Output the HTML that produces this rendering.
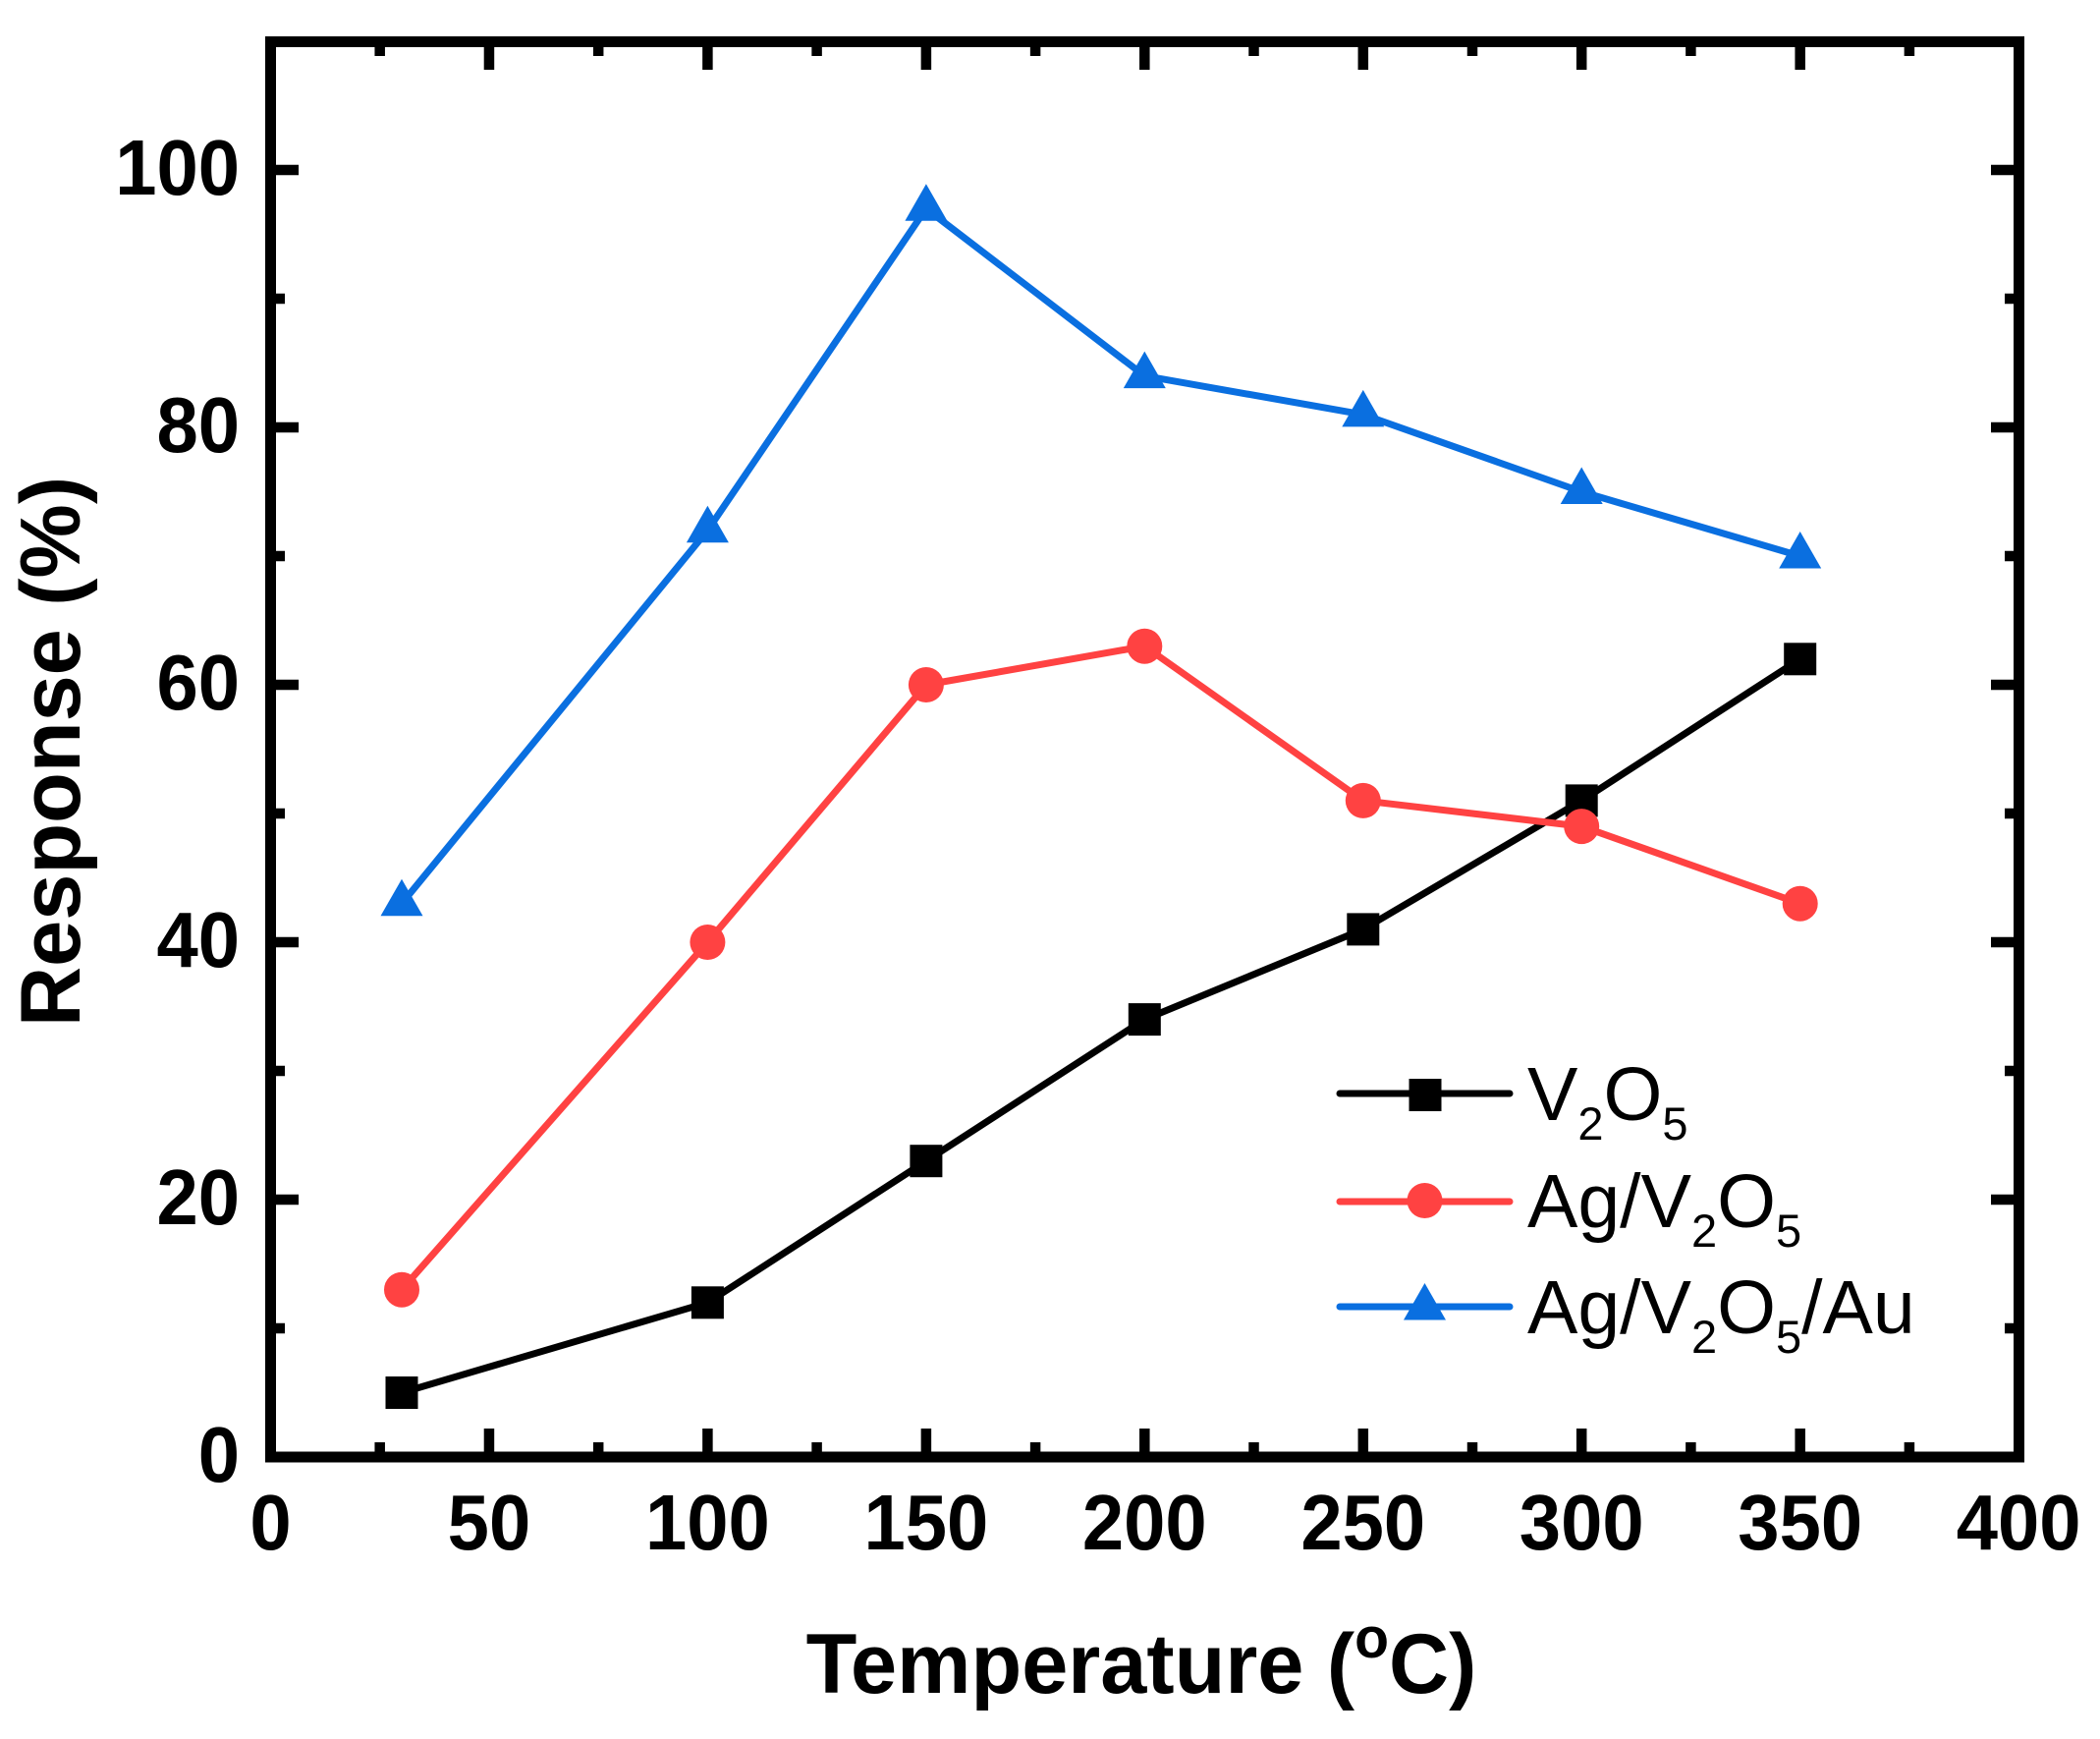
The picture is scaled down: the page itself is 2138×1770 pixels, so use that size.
<!DOCTYPE html>
<html>
<head>
<meta charset="utf-8">
<style>
  html, body { margin: 0; padding: 0; background: #ffffff; }
  svg { display: block; }
  text { font-family: "Liberation Sans", Arial, sans-serif; }
</style>
</head>
<body>
<svg width="2138" height="1770" viewBox="0 0 2138 1770" xmlns="http://www.w3.org/2000/svg">
  <rect x="0" y="0" width="2138" height="1770" fill="#ffffff"/>

  <!-- ticks -->
  <g stroke="#000" stroke-width="10.5" fill="none">
    <path d="M497.95 1483V1454 M720.4 1483V1454 M942.9 1483V1454 M1165.3 1483V1454 M1387.8 1483V1454 M1610.2 1483V1454 M1832.7 1483V1454"/>
    <path d="M386.7 1483V1468 M609.2 1483V1468 M831.6 1483V1468 M1054.1 1483V1468 M1276.5 1483V1468 M1499 1483V1468 M1721.4 1483V1468 M1943.9 1483V1468"/>
    <path d="M497.95 42.5V71 M720.4 42.5V71 M942.9 42.5V71 M1165.3 42.5V71 M1387.8 42.5V71 M1610.2 42.5V71 M1832.7 42.5V71"/>
    <path d="M386.7 42.5V57 M609.2 42.5V57 M831.6 42.5V57 M1054.1 42.5V57 M1276.5 42.5V57 M1499 42.5V57 M1721.4 42.5V57 M1943.9 42.5V57"/>
    <path d="M275.5 1221H304 M275.5 959H304 M275.5 697H304 M275.5 435H304 M275.5 173H304"/>
    <path d="M275.5 1352H290 M275.5 1090H290 M275.5 828H290 M275.5 566H290 M275.5 304H290"/>
    <path d="M2055.5 1221H2027 M2055.5 959H2027 M2055.5 697H2027 M2055.5 435H2027 M2055.5 173H2027"/>
    <path d="M2055.5 1352H2041 M2055.5 1090H2041 M2055.5 828H2041 M2055.5 566H2041 M2055.5 304H2041"/>
  </g>

  <!-- frame -->
  <rect x="275.5" y="42.5" width="1780" height="1440.5" fill="none" stroke="#000" stroke-width="11"/>

  <!-- x tick labels -->
  <g font-size="80" font-weight="bold" text-anchor="middle" fill="#000">
    <text transform="translate(275.5,1577) scale(0.95,1)">0</text>
    <text transform="translate(497.95,1577) scale(0.95,1)">50</text>
    <text transform="translate(720.4,1577) scale(0.95,1)">100</text>
    <text transform="translate(942.9,1577) scale(0.95,1)">150</text>
    <text transform="translate(1165.3,1577) scale(0.95,1)">200</text>
    <text transform="translate(1387.8,1577) scale(0.95,1)">250</text>
    <text transform="translate(1610.2,1577) scale(0.95,1)">300</text>
    <text transform="translate(1832.7,1577) scale(0.95,1)">350</text>
    <text transform="translate(2055.1,1577) scale(0.95,1)">400</text>
  </g>

  <!-- y tick labels -->
  <g font-size="80" font-weight="bold" text-anchor="end" fill="#000">
    <text transform="translate(244,1508) scale(0.95,1)">0</text>
    <text transform="translate(244,1246) scale(0.95,1)">20</text>
    <text transform="translate(244,984) scale(0.95,1)">40</text>
    <text transform="translate(244,722) scale(0.95,1)">60</text>
    <text transform="translate(244,460) scale(0.95,1)">80</text>
    <text transform="translate(244,198) scale(0.95,1)">100</text>
  </g>

  <!-- axis titles -->
  <text transform="translate(1162,1723) scale(0.985,1)" x="0" y="0" font-size="86" font-weight="bold" text-anchor="middle" fill="#000">Temperature (<tspan font-size="58" dy="-36">o</tspan><tspan font-size="86" dy="36">C)</tspan></text>
  <text transform="translate(81,765) rotate(-90) scale(0.985,1)" x="0" y="0" font-size="86" font-weight="bold" text-anchor="middle" fill="#000">Response (%)</text>

  <!-- V2O5 series -->
  <polyline points="409,1417.5 720.4,1325.8 942.9,1181.7 1165.3,1037.6 1387.8,945.9 1610.2,814.9 1832.7,670.8" fill="none" stroke="#000" stroke-width="7" stroke-linejoin="round"/>
  <g fill="#000">
    <rect x="392.5" y="1401" width="33" height="33"/>
    <rect x="703.9" y="1309.3" width="33" height="33"/>
    <rect x="926.4" y="1165.2" width="33" height="33"/>
    <rect x="1148.8" y="1021.1" width="33" height="33"/>
    <rect x="1371.3" y="929.4" width="33" height="33"/>
    <rect x="1593.7" y="798.4" width="33" height="33"/>
    <rect x="1816.2" y="654.3" width="33" height="33"/>
  </g>

  <!-- Ag/V2O5 series -->
  <polyline points="409,1312.7 720.4,959 942.9,697 1165.3,657.7 1387.8,814.9 1610.2,841.1 1832.7,919.7" fill="none" stroke="#FF4242" stroke-width="7" stroke-linejoin="round"/>
  <g fill="#FF4242">
    <circle cx="409" cy="1312.7" r="18"/>
    <circle cx="720.4" cy="959" r="18"/>
    <circle cx="942.9" cy="697" r="18"/>
    <circle cx="1165.3" cy="657.7" r="18"/>
    <circle cx="1387.8" cy="814.9" r="18"/>
    <circle cx="1610.2" cy="841.1" r="18"/>
    <circle cx="1832.7" cy="919.7" r="18"/>
  </g>

  <!-- Ag/V2O5/Au series -->
  <polyline points="409,919.7 720.4,539.8 942.9,212.3 1165.3,382.6 1387.8,421.9 1610.2,500.5 1832.7,566" fill="none" stroke="#0A6FE0" stroke-width="7" stroke-linejoin="round"/>
  <g fill="#0A6FE0">
    <polygon points="409,894.7 430.5,932.2 387.5,932.2"/>
    <polygon points="720.4,514.8 741.9,552.3 698.9,552.3"/>
    <polygon points="942.9,187.3 964.4,224.8 921.4,224.8"/>
    <polygon points="1165.3,357.6 1186.8,395.1 1143.8,395.1"/>
    <polygon points="1387.8,396.9 1409.3,434.4 1366.3,434.4"/>
    <polygon points="1610.2,475.5 1631.7,513 1588.7,513"/>
    <polygon points="1832.7,541 1854.2,578.5 1811.2,578.5"/>
  </g>

  <!-- legend -->
  <g stroke-width="7" stroke-linecap="round" fill="none">
    <line x1="1364" y1="1113" x2="1537" y2="1113" stroke="#000"/>
    <line x1="1364" y1="1223" x2="1537" y2="1223" stroke="#FF4242"/>
    <line x1="1364" y1="1330" x2="1537" y2="1330" stroke="#0A6FE0"/>
  </g>
  <rect x="1434.5" y="1098" width="33" height="33" fill="#000"/>
  <circle cx="1450.5" cy="1222" r="18" fill="#FF4242"/>
  <polygon points="1450.5,1306 1472,1343.5 1429,1343.5" fill="#0A6FE0"/>

  <g font-size="77" fill="#000">
    <text x="1555" y="1140">V<tspan font-size="47" dy="20">2</tspan><tspan font-size="77" dy="-20">O</tspan><tspan font-size="47" dy="20">5</tspan></text>
    <text x="1555" y="1249">Ag/V<tspan font-size="47" dy="20">2</tspan><tspan font-size="77" dy="-20">O</tspan><tspan font-size="47" dy="20">5</tspan></text>
    <text x="1555" y="1357">Ag/V<tspan font-size="47" dy="20">2</tspan><tspan font-size="77" dy="-20">O</tspan><tspan font-size="47" dy="20">5</tspan><tspan font-size="77" dy="-20">/Au</tspan></text>
  </g>
</svg>
</body>
</html>
